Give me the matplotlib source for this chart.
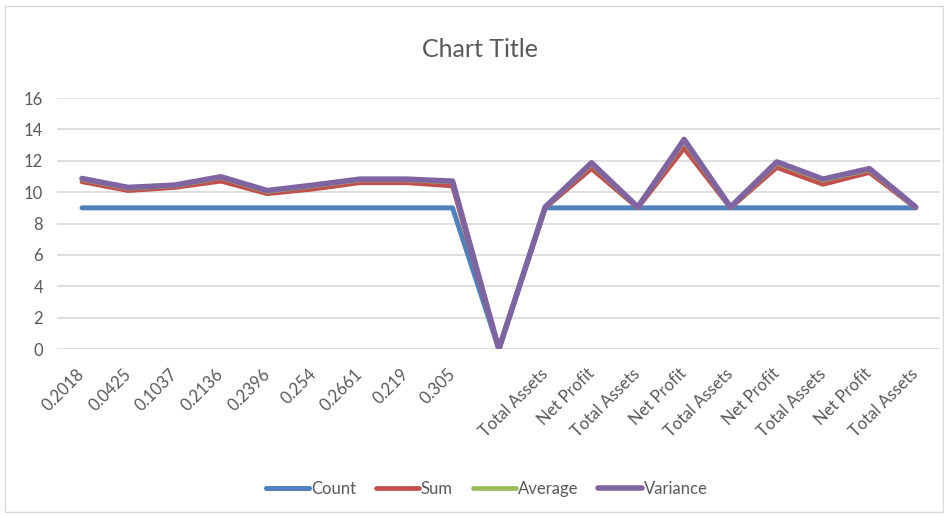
import matplotlib.pyplot as plt
from matplotlib.patches import Rectangle

plt.rcParams['font.family'] = ['Lato', 'DejaVu Sans']

# Categories and series values
categories = ['0.2018', '0.0425', '0.1037', '0.2136', '0.2396', '0.254', '0.2661', '0.219', '0.305', '',
              'Total Assets', 'Net Profit', 'Total Assets', 'Net Profit', 'Total Assets',
              'Net Profit', 'Total Assets', 'Net Profit', 'Total Assets']
count = [9, 9, 9, 9, 9, 9, 9, 9, 9, 0, 9, 9, 9, 9, 9, 9, 9, 9, 9]
sums = [10.66, 10.1, 10.3, 10.7, 9.9, 10.2, 10.6, 10.6, 10.4, 0,
        9.0, 11.5, 9.0, 12.8, 9.0, 11.57, 10.5, 11.25, 9.0]
average = [10.82, 10.25, 10.41, 10.93, 10.05, 10.4, 10.78, 10.78, 10.65, 0,
           9.03, 11.8, 9.03, 13.25, 9.03, 11.85, 10.76, 11.43, 9.03]
variance = [10.87, 10.3, 10.45, 10.98, 10.1, 10.45, 10.83, 10.83, 10.7, 0,
            9.05, 11.87, 9.05, 13.36, 9.05, 11.93, 10.83, 11.5, 9.05]

fig = plt.figure(figsize=(9.45, 5.16), dpi=100)
ax = fig.add_axes([0.0603, 0.3236, 0.9347, 0.4864])

x = range(len(categories))
ax.plot(x, count, color='#4F81BD', lw=3.6, label='Count', solid_capstyle='round')
ax.plot(x, sums, color='#C0504D', lw=3.4, label='Sum', solid_capstyle='round')
ax.plot(x, average, color='#9BBB59', lw=3.4, label='Average', solid_capstyle='round')
ax.plot(x, variance, color='#8064A2', lw=4.0, label='Variance', solid_capstyle='round')

ax.set_xlim(-0.54, 18.53)
ax.set_ylim(0, 16)
ax.set_yticks(range(0, 17, 2))
ax.grid(axis='y', color='#D9D9D9', lw=1.2)
ax.set_axisbelow(True)
for s in ax.spines.values():
    s.set_visible(False)
ax.tick_params(length=0, colors='#595959', labelsize=12)
ax.tick_params(axis='y', pad=10)
ax.set_xticks(list(x))
ax.set_xticklabels(categories, rotation=45, ha='right', rotation_mode='anchor', va='center')
ax.tick_params(axis='x', pad=16)

fig.text(0.508, 0.905, 'Chart Title', ha='center', va='center', fontsize=18, color='#595959')

ax.legend(loc='center', bbox_to_anchor=(0.515, 0.052), bbox_transform=fig.transFigure, ncol=4,
          frameon=False, fontsize=12, handlelength=2.6, handletextpad=0.1, columnspacing=1.2,
          labelcolor='#595959')

fig.add_artist(Rectangle((5 / 945, 4 / 516), 938 / 945, 506 / 516, transform=fig.transFigure,
                         fill=False, edgecolor='#D9D9D9', lw=1))

fig.savefig('out.png', dpi=100)
